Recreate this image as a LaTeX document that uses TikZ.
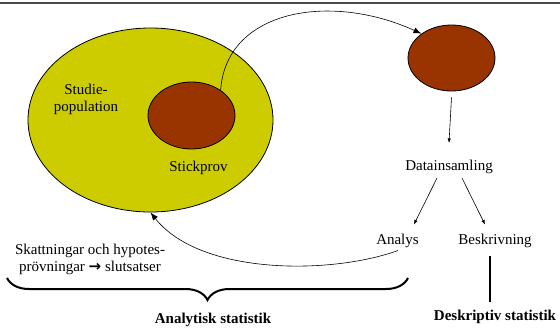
\documentclass[tikz,border=0pt]{standalone}
\usepackage{fontspec}
\setmainfont{Liberation Serif}
\newfontfamily\arrowfont{DejaVu Sans}
\usetikzlibrary{arrows.meta,shapes.geometric,decorations.pathreplacing,calc}
\definecolor{popyellow}{HTML}{CCCC00}
\definecolor{sampbrown}{HTML}{993300}
\begin{document}
\begin{tikzpicture}[x=1pt,y=-1pt,
  blob/.style={ellipse,draw=black,line width=0.8pt,inner sep=0pt},
  lbl/.style={inner sep=1pt,font=\fontsize{15}{17}\selectfont,align=center},
  blbl/.style={inner sep=1pt,font=\fontsize{15}{17}\selectfont\bfseries,align=center},
  bigarrow/.style={-{Latex[length=8pt,width=6pt]},line width=0.6pt},
  smallarrow/.style={-{Latex[length=4.5pt,width=3.5pt]},line width=0.6pt},
  thick line/.style={line width=2pt}]
\useasboundingbox (0,0) rectangle (560,330);
\draw[line width=1.2pt,black!70] (0,3) -- (560,3);
% ellipses
\node[blob,fill=popyellow,minimum width=245pt,minimum height=184pt] (pop) at (150.5,120) {};
\node[blob,fill=sampbrown,minimum width=87pt,minimum height=67pt] (samp) at (191.5,115.5) {};
\node[blob,fill=sampbrown,minimum width=87pt,minimum height=66pt] (dat) at (451.5,58) {};
% texts
\node[lbl] (studie) at (86,99) {Studie-\\population};
\node[lbl] (stick) at (198.5,168) {Stickprov};
\node[lbl] (ds) at (449,167) {Datainsamling};
\node[lbl] (an) at (397.5,241) {Analys};
\node[lbl] (bk) at (495,241) {Beskrivning};
\node[lbl] (skatt) at (90,259) {Skattningar och hypotes-\\prövningar\ {\arrowfont\bfseries\fontsize{15}{17}\selectfont →}\ slutsatser};
\node[blbl] (anstat) at (213,320) {Analytisk statistik};
\node[blbl] (deskr) at (495,317) {Deskriptiv statistik};
% connectors
\draw[bigarrow] (samp.41) .. controls (226,10) and (330,-8) .. (dat.141);
\draw[smallarrow] ([yshift=-6pt]dat.south) -- ([yshift=16pt]ds.north);
\draw[smallarrow] ([xshift=-12pt,yshift=-3pt]ds.south) -- ([xshift=-6pt,yshift=8.5pt]an.north east);
\draw[smallarrow] ([xshift=13pt,yshift=-3pt]ds.south) -- ([xshift=-10pt,yshift=8.5pt]bk.north);
\draw[bigarrow] ([xshift=0.5pt,yshift=-1.5pt]an.south) .. controls (330,275) and (200,275) .. (pop.south);
\draw[thick line] ([xshift=-5pt,yshift=-6.5pt]bk.south) -- ([xshift=-5pt,yshift=7.5pt]deskr.north);
% brace
\coordinate (br1) at (408,278);
\coordinate (br2) at (7,278);
\draw[line width=2pt,decorate,decoration={brace,amplitude=22pt,aspect=0.5}] (br1) -- (br2);
\end{tikzpicture}
\end{document}
